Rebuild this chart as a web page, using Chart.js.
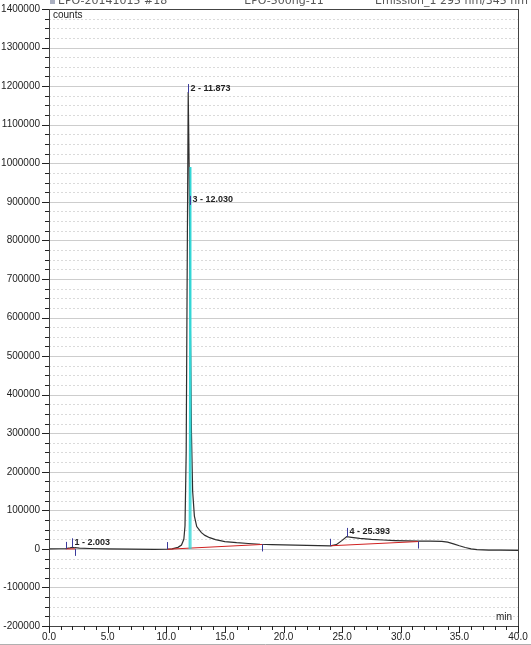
<!DOCTYPE html>
<html>
<head>
<meta charset="utf-8">
<script src="https://cdn.jsdelivr.net/npm/chart.js@4/dist/chart.umd.min.js"></script>
<style>
html,body{margin:0;padding:0;background:#fff;}
#wrap{width:531px;height:645px;position:relative;}
</style>
</head>
<body>
<div id="wrap"><canvas id="c" width="531" height="645"></canvas></div>
<script>
// ---- data ----
const headerLeft = 'EPO-20141015 #18';
const headerMid = 'EPO-500ng-11';
const headerRight = 'Emission_1 295 nm/345 nm';
const yUnit = 'counts';
const xUnit = 'min';

const traceTimes  = [0.0, 1.0, 1.44, 1.8, 2.0, 2.2, 2.6, 3.5, 5.0, 7.0, 9.0, 10.0, 10.5, 11.0, 11.3, 11.5, 11.6, 11.7, 11.8, 11.873, 11.95, 12.05, 12.15, 12.25, 12.4, 12.6, 12.8, 13.0, 13.3, 13.7, 14.2, 15.0, 16.0, 17.0, 18.0, 19.0, 20.0, 21.0, 22.0, 23.0, 24.0, 24.5, 25.0, 25.393, 25.8, 26.5, 27.5, 28.5, 29.5, 30.5, 31.5, 32.5, 33.5, 34.0, 34.5, 35.0, 35.5, 36.0, 36.5, 37.5, 38.5, 40.0];
const traceCounts = [0, 300, 500, 2500, 4000, 3000, 2000, 1000, 0, -800, -1200, -1000, 0, 4000, 10000, 25000, 60000, 250000, 800000, 1185000, 1000000, 600000, 300000, 150000, 85000, 58000, 50000, 42000, 35000, 29000, 24000, 19000, 16000, 14000, 12000, 11000, 10500, 9800, 9200, 8500, 8000, 11000, 22000, 32000, 30000, 27000, 24500, 23000, 21500, 20500, 20000, 20000, 19500, 17500, 13000, 8000, 3500, 0, -2000, -3000, -3500, -4000];

const cyanTimes  = [11.96, 12.03, 12.10];
const cyanCounts = [0, 990000, 0];

// integration baselines (pairs of start/end points)
const baseStartTimes  = [1.44, 10.1, 24.0];
const baseStartCounts = [0, -1000, 8000];
const baseEndTimes    = [2.25, 18.2, 31.5];
const baseEndCounts   = [0, 11500, 19000];

// peak delimiters
const delimTimes  = [1.44, 2.25, 10.1, 18.2, 24.0, 31.5];
const delimCounts = [0, 0, -500, 11500, 8000, 19000];
const delimKind   = ['start', 'end', 'start', 'end', 'start', 'end'];

// peaks
const peakNumbers     = ['1', '2', '3', '4'];
const peakTimes       = [2.003, 11.873, 12.030, 25.393];
const peakLabelCounts = [17000, 1195000, 905000, 44000];

// ---- chart ----
const pts = (xs, ys) => xs.map((x, i) => ({x: x, y: ys[i]}));
const baselineData = [];
baseStartTimes.forEach((t, i) => {
  baselineData.push({x: t, y: baseStartCounts[i]});
  baselineData.push({x: baseEndTimes[i], y: baseEndCounts[i]});
  baselineData.push({x: baseEndTimes[i], y: null});
});

const FONT = '"Liberation Sans", Arial, sans-serif';

function hline(ctx, x1, x2, y) { ctx.beginPath(); ctx.moveTo(x1, y); ctx.lineTo(x2, y); ctx.stroke(); }
function vline(ctx, x, y1, y2) { ctx.beginPath(); ctx.moveTo(x, y1); ctx.lineTo(x, y2); ctx.stroke(); }

const decor = {
  id: 'decor',
  beforeDatasetsDraw(chart) {
    const {ctx, chartArea: a, scales: {x, y}} = chart;
    ctx.save();
    ctx.lineWidth = 1;
    y.ticks.forEach(t => {
      const py = Math.round(y.getPixelForValue(t.value)) + 0.5;
      if (py <= a.top + 1 || py >= a.bottom - 1) return;
      const major = Math.abs(t.value % 100000) < 1;
      ctx.strokeStyle = major ? '#cdcdcd' : '#dadada';
      ctx.setLineDash(major ? [] : [2, 2]);
      hline(ctx, a.left, a.right, py);
    });
    ctx.restore();
  },
  afterDatasetsDraw(chart) {
    const {ctx, chartArea: a, scales: {x, y}} = chart;
    ctx.save();
    ctx.lineWidth = 1;
    ctx.setLineDash([]);
    // frame
    ctx.strokeStyle = '#444';
    ctx.strokeRect(Math.round(a.left) + 0.5, Math.round(a.top) + 0.5, Math.round(a.right - a.left), Math.round(a.bottom - a.top));
    // y ticks
    ctx.strokeStyle = '#222';
    y.ticks.forEach(t => {
      const py = Math.round(y.getPixelForValue(t.value)) + 0.5;
      const major = Math.abs(t.value % 100000) < 1;
      hline(ctx, a.left - (major ? 7 : 4), a.left, py);
    });
    x.ticks.forEach(t => {
      const px = Math.round(x.getPixelForValue(t.value)) + 0.5;
      const major = Math.abs(t.value % 5) < 1e-6;
      vline(ctx, px, a.bottom, a.bottom + (major ? 7 : 4));
    });
    // delimiters
    ctx.strokeStyle = '#3a3a9c';
    delimTimes.forEach((t, i) => {
      const px = Math.round(x.getPixelForValue(t)) + 0.5;
      const py = y.getPixelForValue(delimCounts[i]);
      if (delimKind[i] === 'start') vline(ctx, px, py, py - 7);
      else vline(ctx, px, py, py + 7);
    });
    // peak labels
    ctx.font = 'bold 9px ' + FONT;
    ctx.fillStyle = '#222';
    ctx.textBaseline = 'middle';
    ctx.textAlign = 'left';
    peakTimes.forEach((t, i) => {
      const px = Math.round(x.getPixelForValue(t)) + 0.5;
      const py = y.getPixelForValue(peakLabelCounts[i]);
      vline(ctx, px, py - 4, py + 5);
      ctx.fillText(peakNumbers[i] + ' - ' + t.toFixed(3), px + 2, py);
    });
    // unit labels
    ctx.font = '10px ' + FONT;
    ctx.fillStyle = '#222';
    ctx.textBaseline = 'middle';
    ctx.textAlign = 'left';
    ctx.fillText(yUnit, a.left + 4, a.top + 6);
    ctx.textAlign = 'right';
    ctx.fillText(xUnit, a.right - 6, a.bottom - 9);
    // header (partially cut off at the top)
    ctx.font = '11px "DejaVu Sans", Verdana, sans-serif';
    ctx.fillStyle = '#555';
    ctx.textBaseline = 'alphabetic';
    ctx.textAlign = 'left';
    ctx.fillText(headerLeft, 58, 4);
    ctx.textAlign = 'center';
    ctx.fillText(headerMid, 284, 4);
    ctx.textAlign = 'right';
    ctx.fillText(headerRight, 528, 4);
    ctx.fillStyle = '#a9afc0';
    ctx.fillRect(50, 0, 5, 4);
    // bottom edge
    ctx.strokeStyle = '#b0b0b0';
    hline(ctx, 0, 531, 644.5);
    ctx.restore();
  }
};

new Chart(document.getElementById('c'), {
  type: 'line',
  data: {
    datasets: [
      {data: pts(traceTimes, traceCounts), borderColor: '#2e2e2e', borderWidth: 1.2, pointRadius: 0, tension: 0, order: 3},
      {data: baselineData, borderColor: '#d02020', borderWidth: 1, pointRadius: 0, spanGaps: false, order: 2},
      {data: pts(cyanTimes, cyanCounts), borderColor: '#33d6d6', borderWidth: 1.2, pointRadius: 0, order: 1}
    ]
  },
  options: {
    responsive: false,
    animation: false,
    events: [],
    layout: {padding: {top: 9, right: 13, left: 0, bottom: 0}},
    plugins: {legend: {display: false}, tooltip: {enabled: false}},
    scales: {
      x: {
        type: 'linear', min: 0, max: 40,
        grid: {display: false, drawTicks: false},
        border: {display: false},
        afterFit(s) { s.height = 19; s.paddingLeft = 0; s.paddingRight = 0; },
        ticks: {
          stepSize: 1, autoSkip: false, maxRotation: 0, padding: 5,
          color: '#222', font: {family: FONT, size: 10},
          callback: v => (Math.abs(v % 5) < 1e-6 ? v.toFixed(1) : '')
        }
      },
      y: {
        type: 'linear', min: -200000, max: 1400000,
        grid: {display: false, drawTicks: false},
        border: {display: false},
        afterFit(s) { s.width = 49; s.paddingTop = 0; s.paddingBottom = 0; },
        ticks: {
          stepSize: 25000, autoSkip: false, padding: 9,
          color: '#222', font: {family: FONT, size: 10},
          callback: v => (Math.abs(v % 100000) < 1 ? String(v) : '')
        }
      }
    }
  },
  plugins: [decor]
});
</script>
</body>
</html>
